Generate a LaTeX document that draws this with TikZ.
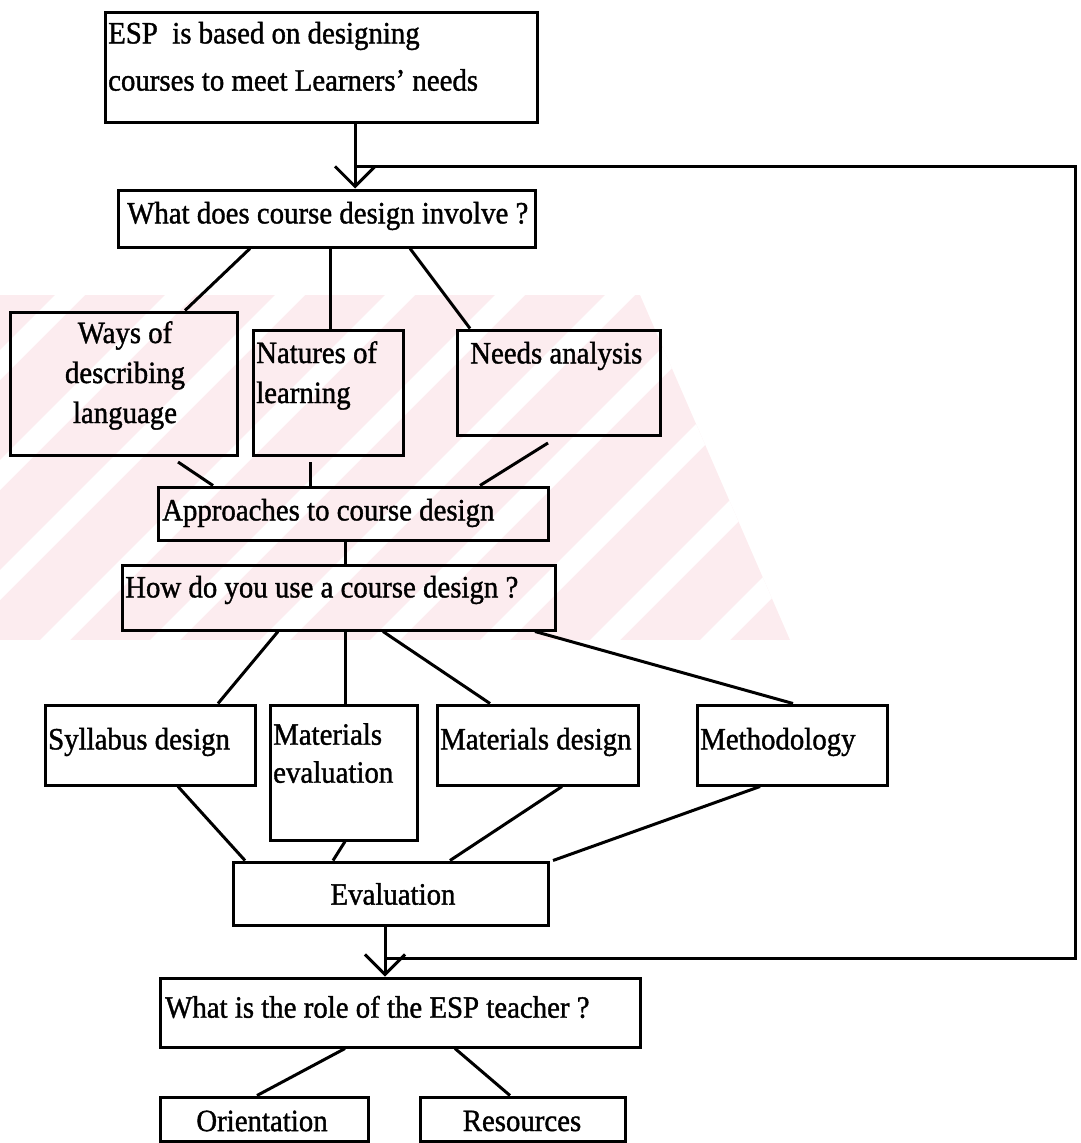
\documentclass[tikz,border=0pt]{standalone}
\usepackage{fontspec}
\setmainfont{Liberation Serif}[FakeStretch=0.93,FakeBold=1.2]
\usetikzlibrary{arrows.meta,calc,fit}
\definecolor{wmpink}{RGB}{252,236,239}
\begin{document}
\begin{tikzpicture}[x=1pt,y=-1pt,
  box/.style={draw,line width=3pt,inner sep=0pt},
  lbl/.style={inner sep=0pt,font=\fontsize{31}{38}\selectfont,anchor=west},
  clbl/.style={inner sep=0pt,font=\fontsize{31}{38}\selectfont,align=center},
  con/.style={line width=3pt},
  arr/.style={line width=3pt,-{Straight Barb[length=20pt,width=40pt,line width=3pt]}}
]
\useasboundingbox (0,0) rectangle (1081,1143);

% faint watermark
\begin{scope}
  \clip (0,295) -- (640,295) -- (790,640) -- (0,640) -- cycle;
  \fill[wmpink] (0,295) rectangle (800,640);
  \foreach \s in {0,110,...,1300}
    \fill[white] (\s-400,640) -- (\s-370,640) -- (\s-25,295) -- (\s-55,295) -- cycle;
\end{scope}

% boxes
\node[box,fit={(105,12)(537,122)}] (esp) {};
\node[box,fit={(118,190)(535,247)}] (q1) {};
\node[box,fit={(10,312)(237,455)}] (ways) {};
\node[box,fit={(253,330)(403,455)}] (nat) {};
\node[box,fit={(457,330)(660,435)}] (needs) {};
\node[box,fit={(158,487)(548,540)}] (appr) {};
\node[box,fit={(122,565)(555,630)}] (how) {};
\node[box,fit={(45,705)(255,785)}] (syl) {};
\node[box,fit={(270,705)(417,840)}] (mev) {};
\node[box,fit={(437,705)(638,785)}] (mdes) {};
\node[box,fit={(697,705)(887,785)}] (meth) {};
\node[box,fit={(233,862)(548,925)}] (eval) {};
\node[box,fit={(160,978)(640,1047)}] (role) {};
\node[box,fit={(160,1097)(368,1141)}] (orient) {};
\node[box,fit={(420,1097)(625,1141)}] (res) {};

% texts
\node[lbl] (tesp1) at (108,36) {ESP\ \ is based on designing};
\node[lbl] (tesp2) at (108,80) {courses to meet Learners' needs};
\node[lbl] (tq1) at (127,216) {What does course design involve ?};
\node[clbl,anchor=north,font=\fontsize{31}{40}\selectfont] (tways) at (125,321) {Ways of\\describing\\language};
\node[lbl,anchor=north west,align=left,font=\fontsize{31}{40}\selectfont] (tnat) at (256,341) {Natures of\\learning};
\node[lbl] (tneeds) at (470,356) {Needs analysis};
\node[lbl] (tappr) at (162,513) {Approaches to course design};
\node[lbl] (thow) at (125,590) {How do you use a course design ?};
\node[lbl] (tsyl) at (48,742) {Syllabus design};
\node[lbl,anchor=north west,align=left] (tmev) at (273,723) {Materials\\evaluation};
\node[lbl] (tmdes) at (440,742) {Materials design};
\node[lbl] (tmeth) at (700,742) {Methodology};
\node[clbl] (teval) at (393,894) {Evaluation};
\node[lbl] (trole) at (165,1007) {What is the role of the ESP teacher ?};
\node[clbl] (torient) at (262,1121) {Orientation};
\node[clbl] (tres) at (522,1121) {Resources};

% connectors
\draw[arr] ($(esp.south west)!(355,0)!(esp.south east)$) -- ($(q1.north west)!(355,0)!(q1.north east)$);
\draw[con] ($(q1.south west)!(250,0)!(q1.south east)$) -- ($(ways.north west)!(185,0)!(ways.north east)$);
\draw[con] ($(q1.south west)!(330,0)!(q1.south east)$) -- ($(nat.north west)!(330,0)!(nat.north east)$);
\draw[con] ($(q1.south west)!(410,0)!(q1.south east)$) -- ($(needs.north west)!(470,0)!(needs.north east)$);

\coordinate (wl) at (178,462);
\coordinate (nl) at (310,462);
\coordinate (al) at (548,443);
\draw[con] (wl) -- ($(appr.north west)!(213,0)!(appr.north east)$);
\draw[con] (nl) -- ($(appr.north west)!(310,0)!(appr.north east)$);
\draw[con] (al) -- ($(appr.north west)!(480,0)!(appr.north east)$);

\draw[con] ($(appr.south west)!(345,0)!(appr.south east)$) -- ($(how.north west)!(345,0)!(how.north east)$);

\draw[con] ($(how.south west)!(278,0)!(how.south east)$) -- ($(syl.north west)!(218,0)!(syl.north east)$);
\draw[con] ($(how.south west)!(345,0)!(how.south east)$) -- ($(mev.north west)!(345,0)!(mev.north east)$);
\draw[con] ($(how.south west)!(383,0)!(how.south east)$) -- ($(mdes.north west)!(490,0)!(mdes.north east)$);
\draw[con] ($(how.south west)!(535,0)!(how.south east)$) -- ($(meth.north west)!(793,0)!(meth.north east)$);

\draw[con] ($(syl.south west)!(178,0)!(syl.south east)$) -- ($(eval.north west)!(245,0)!(eval.north east)$);
\draw[con] ($(mev.south west)!(345,0)!(mev.south east)$) -- ($(eval.north west)!(333,0)!(eval.north east)$);
\draw[con] ($(mdes.south west)!(562,0)!(mdes.south east)$) -- ($(eval.north west)!(450,0)!(eval.north east)$);
\draw[con] ($(meth.south west)!(760,0)!(meth.south east)$) -- ($(eval.north west)!(553,0)!(eval.north east)$);

\draw[arr] ($(eval.south west)!(385,0)!(eval.south east)$) -- ($(role.north west)!(385,0)!(role.north east)$);

\coordinate (fbA) at (355,166);
\coordinate (fbB) at (1075,166);
\coordinate (fbC) at (1075,958);
\coordinate (fbD) at (385,958);
\draw[con] (fbA) -- (fbB) -- (fbC) -- (fbD);

\draw[con] ($(role.south west)!(345,0)!(role.south east)$) -- ($(orient.north west)!(257,0)!(orient.north east)$);
\draw[con] ($(role.south west)!(455,0)!(role.south east)$) -- ($(res.north west)!(510,0)!(res.north east)$);
\end{tikzpicture}
\end{document}
